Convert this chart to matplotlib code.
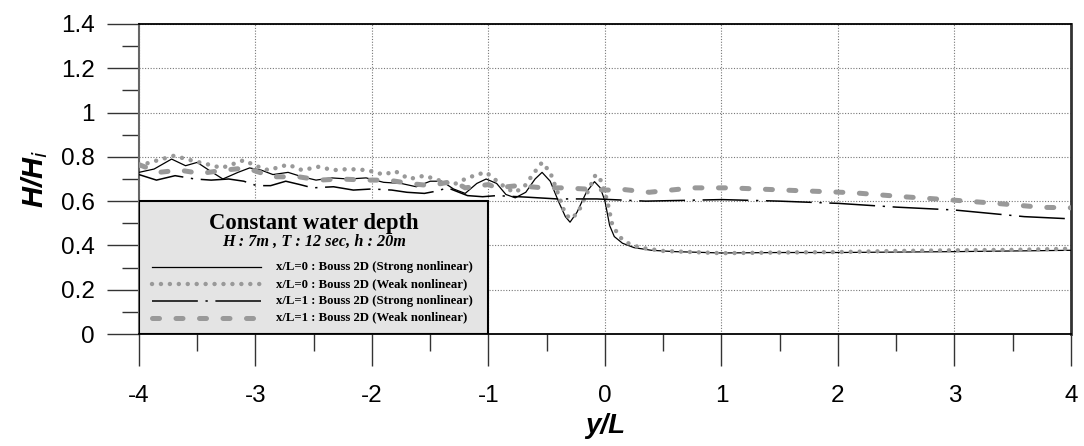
import numpy as np
import matplotlib
matplotlib.use('Agg')
from matplotlib import pyplot as plt
from matplotlib.patches import Rectangle
from matplotlib.ticker import MultipleLocator, FormatStrFormatter

# x/L=0 : Bouss 2D (Strong nonlinear)
x_s0 = [-4.0, -3.87, -3.72, -3.6, -3.5, -3.4, -3.28, -3.15, -3.05, -2.95, -2.85, -2.72, -2.6,
        -2.48, -2.35, -2.2, -2.05, -1.9, -1.75, -1.62, -1.5, -1.4, -1.3, -1.2, -1.1, -1.02,
        -0.93, -0.85, -0.77, -0.68, -0.6, -0.54, -0.47, -0.4, -0.34, -0.3, -0.24, -0.16,
        -0.09, -0.04, 0.0, 0.04, 0.08, 0.15, 0.25, 0.4, 0.6, 1.0, 1.5, 2.0, 2.5, 3.0, 3.5, 4.0]
y_s0 = [0.73, 0.745, 0.79, 0.76, 0.775, 0.74, 0.70, 0.73, 0.75, 0.74, 0.72, 0.73, 0.71,
        0.695, 0.705, 0.70, 0.705, 0.685, 0.68, 0.665, 0.69, 0.69, 0.655, 0.635, 0.68, 0.70,
        0.68, 0.63, 0.615, 0.64, 0.70, 0.73, 0.69, 0.60, 0.53, 0.505, 0.55, 0.64,
        0.688, 0.66, 0.60, 0.49, 0.44, 0.41, 0.39, 0.378, 0.372, 0.366, 0.368, 0.368, 0.37, 0.372, 0.375, 0.378]

# x/L=0 : Bouss 2D (Weak nonlinear)
x_w0 = [-4.0, -3.87, -3.7, -3.52, -3.4, -3.29, -3.18, -3.1, -3.0, -2.89, -2.72, -2.6, -2.46,
        -2.33, -2.2, -2.04, -1.9, -1.8, -1.68, -1.55, -1.4, -1.3, -1.2, -1.1, -1.02, -0.95,
        -0.85, -0.78, -0.7, -0.62, -0.54, -0.47, -0.4, -0.34, -0.29, -0.23, -0.15, -0.08,
        -0.03, 0.02, 0.06, 0.12, 0.2, 0.3, 0.5, 1.0, 1.5, 2.0, 2.5, 3.0, 3.5, 4.0]
y_w0 = [0.76, 0.78, 0.805, 0.78, 0.765, 0.75, 0.77, 0.785, 0.76, 0.74, 0.765, 0.74, 0.755,
        0.74, 0.745, 0.74, 0.72, 0.735, 0.70, 0.715, 0.69, 0.675, 0.70, 0.72, 0.73, 0.70,
        0.66, 0.64, 0.66, 0.72, 0.775, 0.73, 0.63, 0.54, 0.52, 0.55, 0.64, 0.72,
        0.69, 0.60, 0.50, 0.44, 0.41, 0.39, 0.375, 0.365, 0.368, 0.37, 0.375, 0.378, 0.38, 0.385]

# x/L=1 : Bouss 2D (Strong nonlinear)
x_s1 = [-4.0, -3.85, -3.69, -3.52, -3.38, -3.23, -3.1, -2.99, -2.87, -2.74, -2.62, -2.51,
        -2.33, -2.16, -2.0, -1.83, -1.7, -1.55, -1.45, -1.35, -1.18, -1.05, -0.93, -0.67,
        -0.41, -0.07, 0.35, 1.0, 1.5, 2.0, 2.5, 3.0, 3.6, 4.0]
y_s1 = [0.72, 0.695, 0.715, 0.70, 0.695, 0.70, 0.69, 0.67, 0.67, 0.69, 0.675, 0.66,
        0.665, 0.65, 0.655, 0.65, 0.64, 0.635, 0.645, 0.66, 0.625, 0.62, 0.625, 0.618,
        0.61, 0.61, 0.60, 0.607, 0.60, 0.59, 0.573, 0.56, 0.53, 0.52]

# x/L=1 : Bouss 2D (Weak nonlinear)
x_w1 = [-4.0, -3.83, -3.65, -3.47, -3.27, -3.08, -2.85, -2.63, -2.45, -2.27, -2.05, -1.86,
        -1.68, -1.5, -1.3, -1.2, -1.0, -0.93, -0.75, -0.53, -0.35, 0.0, 0.17, 0.38, 0.75,
        1.07, 1.68, 2.13, 2.56, 2.98, 3.36, 3.75, 4.0]
y_w1 = [0.765, 0.73, 0.74, 0.725, 0.74, 0.75, 0.71, 0.71, 0.695, 0.70, 0.695, 0.695,
        0.68, 0.67, 0.69, 0.66, 0.675, 0.66, 0.67, 0.66, 0.66, 0.65, 0.652, 0.64, 0.66,
        0.66, 0.647, 0.638, 0.62, 0.605, 0.59, 0.572, 0.57]

x_ticks = [-4, -3, -2, -1, 0, 1, 2, 3, 4]
y_ticks = [0, 0.2, 0.4, 0.6, 0.8, 1.0, 1.2, 1.4]

legend_labels = ['x/L=0 : Bouss 2D (Strong nonlinear)',
                 'x/L=0 : Bouss 2D (Weak nonlinear)',
                 'x/L=1 : Bouss 2D (Strong nonlinear)',
                 'x/L=1 : Bouss 2D (Weak nonlinear)']

plt.rcParams['font.family'] = 'Liberation Sans'
plt.rcParams['axes.unicode_minus'] = False
grey = '#999999'

fig = plt.figure(figsize=(10.84, 4.46), dpi=100)
ax = fig.add_axes([0.1282, 0.2511, 0.8598, 0.6951])

styles = [
    dict(color='black', lw=0.9, ls='-'),
    dict(color=grey, lw=3.2, ls=(0, (0.01, 2.0)), dash_capstyle='round'),
    dict(color='black', lw=1.1, ls=(0, (30, 5, 1.5, 5))),
    dict(color=grey, lw=3.6, ls=(0, (1.4, 3.3)), dash_capstyle='round'),
]
series = [(x_s0, y_s0), (x_w0, y_w0), (x_s1, y_s1), (x_w1, y_w1)]
for (xs, ys), st in zip(series, styles):
    ax.plot(xs, ys, zorder=4, **st)

ax.set_xlim(-4, 4)
ax.set_ylim(0, 1.4)
ax.xaxis.set_minor_locator(MultipleLocator(0.5))
ax.yaxis.set_minor_locator(MultipleLocator(0.1))
ax.set_xticks(x_ticks)
ax.set_yticks(y_ticks)
ax.yaxis.set_major_formatter(FormatStrFormatter('%g'))
ax.tick_params(axis='both', which='major', direction='out', length=23, width=1.0,
               color='#333333', labelsize=17.5)
ax.tick_params(axis='y', which='major', pad=9)
ax.tick_params(axis='x', which='major', pad=14)
ax.tick_params(axis='both', which='minor', direction='out', length=12, width=1.0,
               color='#333333')
ax.grid(True, which='major', ls=(0, (1, 1.5)), color='#777777', lw=0.8, zorder=0)

ax.spines['left'].set_color('#666666')
ax.spines['left'].set_linewidth(1.5)
ax.spines['top'].set_linewidth(1.3)
ax.spines['bottom'].set_linewidth(1.3)
ax.spines['right'].set_color('#333333')
ax.spines['right'].set_linewidth(2)

ax.set_xlabel('y/L', fontsize=20, fontweight='bold', style='italic', labelpad=4)
ax.set_ylabel('H/H$_\\mathbf{\\mathit{i}}$', fontsize=21, fontweight='bold', style='italic', labelpad=8)

# legend panel
box = Rectangle((-4, 0), 3, 0.6, facecolor='#e4e4e4', edgecolor='black', lw=1.5, zorder=3)
ax.add_patch(box)
ax.text(-2.5, 0.5, 'Constant water depth', family='Liberation Serif', fontweight='bold',
        fontsize=16.3, ha='center', va='center', zorder=5)
ax.text(-2.5, 0.415, 'H : 7m , T : 12 sec, h : 20m', family='Liberation Serif', fontweight='bold',
        style='italic', fontsize=11.7, ha='center', va='center', zorder=5)
leg_y = [0.303, 0.226, 0.15, 0.074]
for lab, ly, st in zip(legend_labels, leg_y, styles):
    ax.plot([-3.89, -2.95], [ly, ly], zorder=5, **st)
    ax.text(-2.82, ly, lab, family='Liberation Serif', fontweight='bold', fontsize=9.2,
            ha='left', va='center', zorder=5)

fig.savefig('out.png', dpi=100)
